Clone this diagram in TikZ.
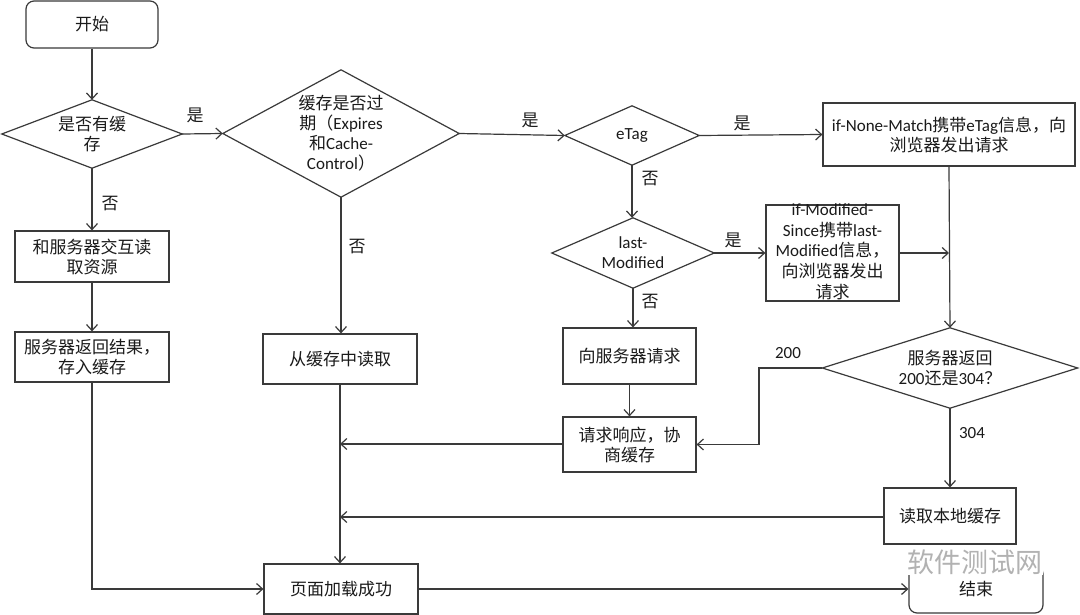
\documentclass[tikz,border=0pt]{standalone}
\usepackage{fontspec}
\setmainfont{Noto Sans CJK SC}
\newfontfamily\lat{Carlito}
\usetikzlibrary{arrows.meta}
\definecolor{ln}{HTML}{3A3A3A}
\definecolor{tx}{HTML}{1A1A1A}
\tikzset{
  base/.style={font=\fontsize{17}{20}\selectfont, text=tx, align=center, inner sep=0pt},
  box/.style={base, draw=ln, line width=1.2pt},
  rbox/.style={box, rounded corners=8pt},
  dia/.style={base},
  conn/.style={draw=ln, line width=1.2pt, -{Straight Barb[length=6pt,width=11pt]}},
  plain/.style={draw=ln, line width=1.2pt},
  lbl/.style={font=\fontsize{17}{20}\selectfont, text=tx, inner sep=0pt}
}
\newcommand{\diam}[1]{\draw[plain] (#1.west) -- (#1.north) -- (#1.east) -- (#1.south) -- cycle;}
\begin{document}
\begin{tikzpicture}[x=1pt,y=-1pt]
\useasboundingbox[fill=white] (0,0) rectangle (1080,615);
% nodes
\node[rbox, minimum width=132pt, minimum height=47pt] (start) at (92,24.5) {开始};
\node[dia, minimum width=180pt, minimum height=68pt] (d1) at (92,134) {是否有缓\\存};
\node[dia, minimum width=236pt, minimum height=127pt] (d2) at (341,133.5) {缓存是否过\\期（{\lat Expires}\\和{\lat Cache-}\\{\lat Control}）};
\node[dia, minimum width=134pt, minimum height=59pt] (etag) at (632,135.5) {\lat eTag};
\node[dia, minimum width=162pt, minimum height=70pt] (lm) at (633,253) {{\lat last-}\\{\lat Modified}};
\node[box, minimum width=252pt, minimum height=63pt] (inm) at (949,134.5) {{\lat if-None-Match}携带{\lat eTag}信息，向\\浏览器发出请求};
\node[box, minimum width=133pt, minimum height=96pt] (ims) at (832.5,253) {\smash{\raisebox{-4pt}{\renewcommand{\arraystretch}{1.04}\begin{tabular}{@{}c@{}}{\lat if-Modified-}\\{\lat Since}携带{\lat last-}\\{\lat Modified}信息，\\向浏览器发出\\请求\end{tabular}}}};
\node[box, minimum width=154pt, minimum height=51pt] (A) at (92,256.5) {和服务器交互读\\取资源};
\node[box, minimum width=154pt, minimum height=50pt] (B) at (92,357) {服务器返回结果，\\存入缓存};
\node[box, minimum width=154pt, minimum height=50pt] (cache) at (340,359) {从缓存中读取};
\node[box, minimum width=133pt, minimum height=56pt] (req) at (629.5,356) {向服务器请求};
\node[box, minimum width=133pt, minimum height=55pt] (resp) at (629.5,444.5) {请求响应，协\\商缓存};
\node[dia, minimum width=255pt, minimum height=80pt] (d3) at (950,368) {服务器返回\\{\lat 200}还是{\lat 304}？};
\node[box, minimum width=132pt, minimum height=56pt] (local) at (950,516) {读取本地缓存};
\node[box, minimum width=154pt, minimum height=50pt] (page) at (341,589) {页面加载成功};
\node[rbox, minimum width=134pt, minimum height=47pt] (end) at (976,589.5) {结束};
\diam{d1}\diam{d2}\diam{etag}\diam{lm}\diam{d3}
% helper coordinates
\coordinate (j1) at (340,444);
\coordinate (j2) at (340,517);
\coordinate (j3) at (949,253);
\coordinate (k200) at (759,368);
% connectors
\draw[conn] (start.south) -- (d1.north);
\draw[conn] (d1.east) -- (d2.west);
\draw[conn] (d1.south) -- (A.north);
\draw[conn] (A.south) -- (B.north);
\draw[conn] (B.south) |- (page.west);
\draw[conn] (d2.south) -- (d2.south |- cache.north);
\draw[conn] (cache.south) -- (cache.south |- page.north);
\draw[conn] (d2.east) -- (etag.west);
\draw[conn] (etag.east) -- (inm.west);
\draw[conn] (etag.south) -- (etag.south |- lm.north);
\draw[conn] (lm.east) -- (lm.east -| ims.west);
\draw[conn] (lm.south) -- (lm.south |- req.north);
\draw[conn] (req.south) -- (resp.north);
\draw[conn] (resp.west |- j1) -- (j1);
\draw[conn] (inm.south) -- (d3.north);
\draw[conn] (ims.east |- j3) -- (j3);
\draw[conn] (d3.west) -- (k200) |- (resp.east);
\draw[conn] (d3.south) -- (local.north);
\draw[conn] (local.west |- j2) -- (j2);
\draw[conn] (page.east) -- (page.east -| end.west);
% labels
\node[lbl] (l1) at (195,115) {是};
\node[lbl] (l2) at (530,120) {是};
\node[lbl] (l3) at (742,123) {是};
\node[lbl] (l4) at (733,240) {是};
\node[lbl] (l5) at (110,204) {否};
\node[lbl] (l6) at (357,247) {否};
\node[lbl] (l7) at (650,179) {否};
\node[lbl] (l8) at (650,302) {否};
\node[lbl] (l9) at (788,353) {\lat 200};
\node[lbl] (l10) at (972,433) {\lat 304};
% watermark
\node[font=\fontsize{27}{30}\selectfont, text=gray!60, fill=white, inner sep=0.5pt] (wm) at (975,562) {软件测试网};
\end{tikzpicture}
\end{document}
